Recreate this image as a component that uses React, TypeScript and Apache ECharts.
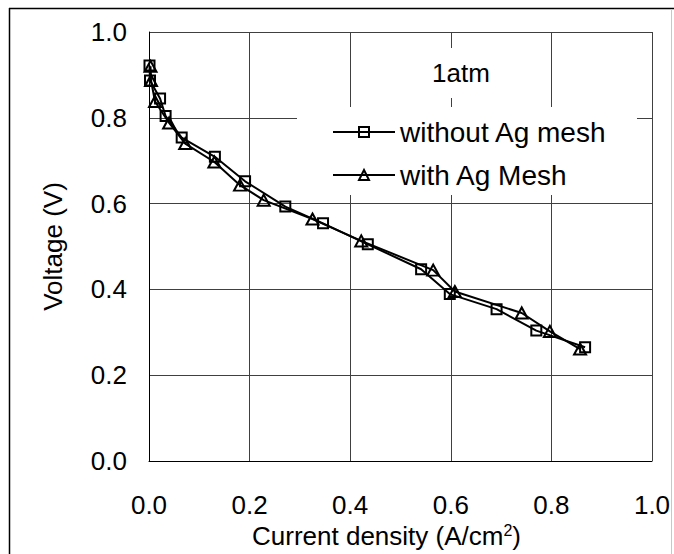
import React, { useEffect, useRef } from 'react';
import * as echarts from 'echarts';

const seriesNames = ['without Ag mesh', 'with Ag Mesh'];
const withoutMeshCurrent = [0.001, 0.002, 0.022, 0.033, 0.065, 0.131, 0.191, 0.271, 0.346, 0.435, 0.541, 0.598, 0.691, 0.770, 0.867];
const withoutMeshVoltage = [0.922, 0.887, 0.845, 0.804, 0.754, 0.709, 0.652, 0.593, 0.554, 0.505, 0.447, 0.389, 0.354, 0.304, 0.265];
const withMeshCurrent = [0.003, 0.004, 0.012, 0.040, 0.072, 0.130, 0.181, 0.228, 0.325, 0.422, 0.565, 0.608, 0.741, 0.797, 0.857];
const withMeshVoltage = [0.920, 0.887, 0.838, 0.788, 0.740, 0.697, 0.643, 0.608, 0.564, 0.513, 0.445, 0.395, 0.345, 0.302, 0.261];
const annotation = '1atm';
const xTitle = 'Current density (A/cm{sup|2})';
const yTitle = 'Voltage (V)';

const FONT = '"Liberation Sans", Arial, sans-serif';

function pairs(xs: number[], ys: number[]) {
  return xs.map((x, i) => [x, ys[i]]);
}

export default function App() {
  const ref = useRef<HTMLDivElement>(null);
  useEffect(() => {
    const chart = echarts.init(ref.current!, null, { renderer: 'svg' });
    const gridColor = '#404040';
    chart.setOption({
      animation: false,
      backgroundColor: '#fff',
      grid: { left: 149, right: 22, top: 32, bottom: 93, containLabel: false },
      xAxis: {
        type: 'value', min: 0, max: 1, interval: 0.2,
        axisLine: { show: true, onZero: false, lineStyle: { color: '#000', width: 1 } },
        axisTick: { show: false },
        splitLine: { show: true, lineStyle: { color: gridColor, width: 1 } },
        axisLabel: { fontSize: 26, color: '#000', fontFamily: FONT, margin: 31, formatter: (v: number) => v.toFixed(1) },
        name: xTitle,
        nameLocation: 'middle',
        nameGap: 60,
        nameTextStyle: {
          fontSize: 26, color: '#000', fontFamily: FONT, padding: [0, 28, 0, 0],
          rich: { sup: { fontSize: 16, color: '#000', fontFamily: FONT, verticalAlign: 'top' } },
        },
      },
      yAxis: {
        type: 'value', min: 0, max: 1, interval: 0.2,
        axisLine: { show: true, onZero: false, lineStyle: { color: '#000', width: 1 } },
        axisTick: { show: false },
        splitLine: { show: true, lineStyle: { color: gridColor, width: 1 } },
        axisLabel: { fontSize: 26, color: '#000', fontFamily: FONT, margin: 22, formatter: (v: number) => v.toFixed(1) },
        name: yTitle,
        nameLocation: 'middle',
        nameRotate: 90,
        nameGap: 83,
        nameTextStyle: { fontSize: 26, color: '#000', fontFamily: FONT },
      },
      legend: {
        orient: 'vertical',
        left: 297, top: 107,
        padding: [11, 30, 6, 35],
        backgroundColor: '#fff',
        itemWidth: 62, itemHeight: 12.5,
        itemGap: 15,
        textStyle: { fontSize: 28, color: '#000', fontFamily: FONT },
        data: seriesNames,
      },
      series: [
        {
          name: seriesNames[0], type: 'line',
          data: pairs(withoutMeshCurrent, withoutMeshVoltage),
          symbol: 'rect', symbolSize: 10,
          itemStyle: { color: 'transparent', borderColor: '#000', borderWidth: 2 },
          lineStyle: { color: '#000', width: 2 },
          z: 3,
        },
        {
          name: seriesNames[1], type: 'line',
          data: pairs(withMeshCurrent, withMeshVoltage),
          symbol: 'triangle', symbolSize: [12, 11],
          itemStyle: { color: 'transparent', borderColor: '#000', borderWidth: 2 },
          lineStyle: { color: '#000', width: 2 },
          z: 4,
        },
      ],
      graphic: [
        {
          type: 'text', x: 461, y: 73, z: 10,
          style: {
            text: annotation, fill: '#000', fontSize: 26, fontFamily: FONT,
            align: 'center', verticalAlign: 'middle',
            backgroundColor: '#fff', padding: [12, 10, 12, 10],
          },
        },
        { type: 'line', z: 20, shape: { x1: 9.5, y1: 8, x2: 9.5, y2: 560 }, style: { stroke: '#000', lineWidth: 1.5 } },
        { type: 'line', z: 20, shape: { x1: 9, y1: 8.5, x2: 674, y2: 8.5 }, style: { stroke: '#000', lineWidth: 1.5 } },
        { type: 'line', z: 20, shape: { x1: 671.5, y1: 9, x2: 671.5, y2: 560 }, style: { stroke: '#c8c8c8', lineWidth: 1 } },
      ],
    });
    return () => chart.dispose();
  }, []);
  return (
    <div
      ref={ref}
      style={{ position: 'absolute', left: 0, top: 0, width: 674, height: 554, background: '#fff' }}
    />
  );
}
